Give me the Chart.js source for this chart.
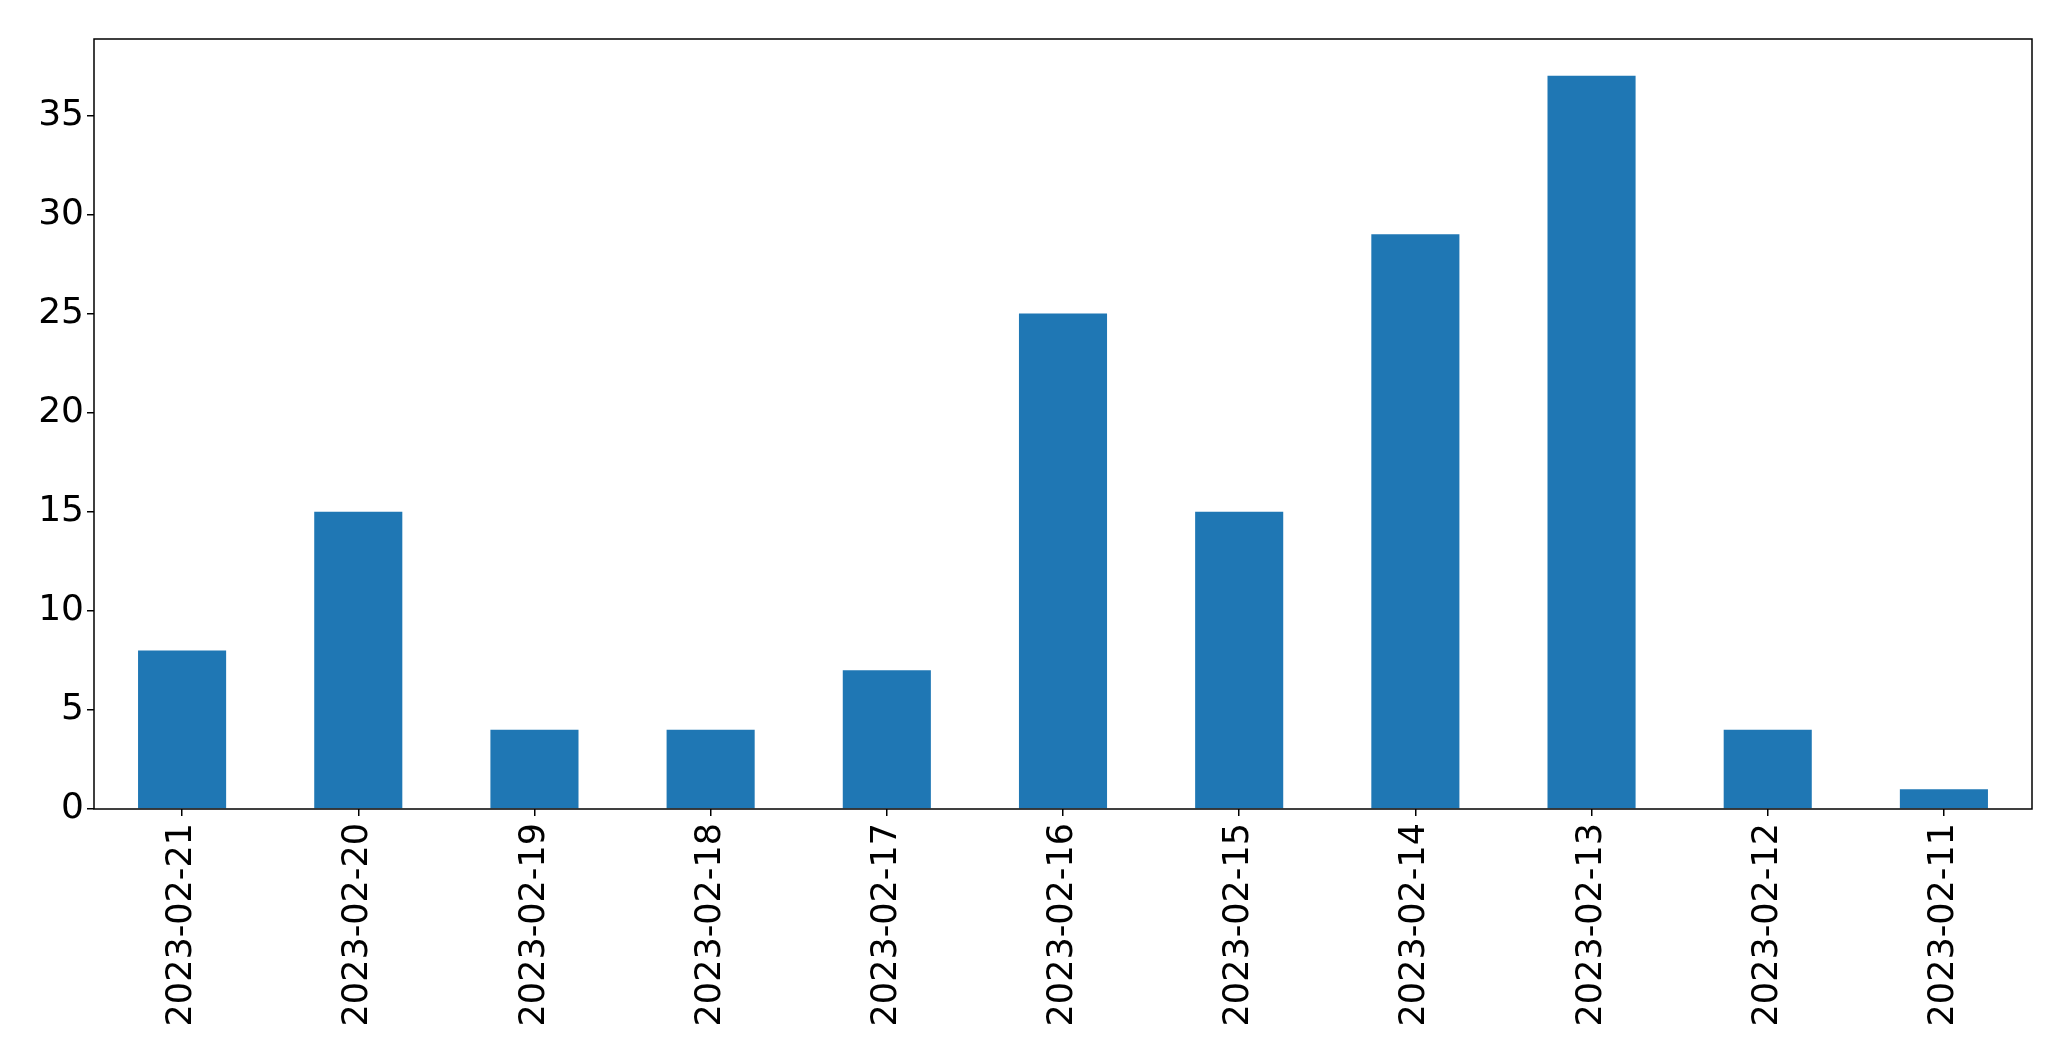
<!DOCTYPE html>
<html>
<head>
<meta charset="utf-8">
<script src="https://cdn.jsdelivr.net/npm/chart.js@4"></script>
<style>
  body { margin: 0; background: #fff; }
</style>
</head>
<body>
<canvas id="chart" width="2071" height="1061"></canvas>
<script>
const dates = ["2023-02-21", "2023-02-20", "2023-02-19", "2023-02-18", "2023-02-17", "2023-02-16",
               "2023-02-15", "2023-02-14", "2023-02-13", "2023-02-12", "2023-02-11"];
const counts = [8, 15, 4, 4, 7, 25, 15, 29, 37, 4, 1];
const yTicks = [0, 5, 10, 15, 20, 25, 30, 35];

// outline the plot area like a matplotlib axes box
const frame = {
  id: "frame",
  afterDraw(chart) {
    const { ctx, chartArea: a } = chart;
    ctx.save();
    ctx.strokeStyle = "#000";
    ctx.lineWidth = 1.5;
    ctx.strokeRect(a.left, a.top, a.right - a.left, a.bottom - a.top);
    ctx.restore();
  }
};

new Chart(document.getElementById("chart"), {
  type: "bar",
  data: {
    labels: dates,
    datasets: [{
      data: counts,
      backgroundColor: "#1f77b4",
      categoryPercentage: 1,
      barPercentage: 0.5
    }]
  },
  options: {
    responsive: false,
    animation: false,
    layout: { padding: { top: 39, right: 39, left: 0, bottom: 0 } },
    plugins: { legend: { display: false }, tooltip: { enabled: false } },
    scales: {
      x: {
        offset: true,
        grid: { drawOnChartArea: false, offset: false, tickLength: 7, color: "#000", lineWidth: 1.5 },
        border: { display: false },
        ticks: {
          color: "#000", font: { family: "DejaVu Sans", size: 35 },
          minRotation: 90, maxRotation: 90, padding: 7, autoSkip: false
        },
        afterFit(scale) { scale.height = 252; }
      },
      y: {
        min: 0,
        max: 38.85,
        grid: { drawOnChartArea: false, tickLength: 7, color: "#000", lineWidth: 1.5 },
        border: { display: false },
        ticks: { color: "#000", font: { family: "DejaVu Sans", size: 36 }, padding: 3 },
        afterBuildTicks(scale) { scale.ticks = yTicks.map(v => ({ value: v })); },
        afterFit(scale) { scale.width = 94; }
      }
    }
  },
  plugins: [frame]
});
</script>
</body>
</html>
